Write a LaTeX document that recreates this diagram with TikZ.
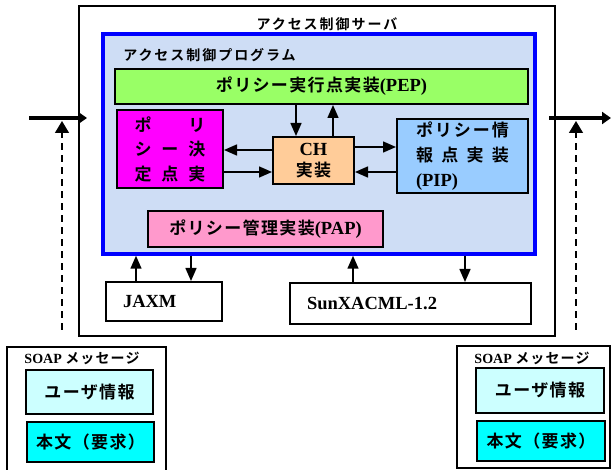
\documentclass[tikz,border=0pt]{standalone}
\usepackage{fontspec}
\setmainfont{Liberation Serif}
\newfontfamily\jp{Noto Sans CJK JP}[BoldFont={Noto Sans CJK JP Bold}, LetterSpace=8]
\newfontfamily\jpwide{Noto Sans CJK JP}[BoldFont={Noto Sans CJK JP Bold}, LetterSpace=14]
\usetikzlibrary{arrows.meta}

\definecolor{progblue}{RGB}{206,221,245}
\definecolor{pepgreen}{RGB}{153,255,102}
\definecolor{pdpmagenta}{RGB}{255,0,255}
\definecolor{chorange}{RGB}{255,204,153}
\definecolor{pipblue}{RGB}{153,204,255}
\definecolor{pappink}{RGB}{255,153,204}
\definecolor{userbox}{RGB}{204,255,255}
\definecolor{bodybox}{RGB}{0,255,255}

% stretchable space for the spread-out lines
\newcommand{\gap}{\hskip 0pt plus 1filll}
\newcommand{\jsize}{\fontsize{17}{24}\selectfont}
\newcommand{\lsize}{\fontsize{18.5}{24}\selectfont}

\begin{document}
\begin{tikzpicture}[x=1pt,y=-1pt,
  every node/.style={font=\bfseries\jsize},
  box/.style={draw, line width=2pt, inner sep=0pt},
  tri/.style={-{Triangle[length=13pt,width=11pt]}, line width=1.5pt},
  bigarrow/.style={-{Triangle[length=9pt,width=12pt]}, line width=3.5pt},
  dasharrow/.style={-{Triangle[length=12pt,width=14pt]}, line width=1.5pt, dash pattern=on 7pt off 5pt}]
\useasboundingbox (0,0) rectangle (611,470);

% server and the program inside it
\node[box, minimum width=476pt, minimum height=330pt] (server) at (317,171) {};
\node[font=\bfseries\jpwide\fontsize{14}{16}\selectfont] (servertitle) at (327,24) {アクセス制御サーバ};
\node[draw=blue, line width=3.5pt, fill=progblue, minimum width=432pt, minimum height=220pt] (prog) at (319,144) {};
\node[font=\bfseries\jpwide\fontsize{14}{16}\selectfont] (progtitle) at (209.5,55) {アクセス制御プログラム};

\node[box, fill=pepgreen, minimum width=413pt, minimum height=35pt] (pep) at (321.5,86.5)
  {{\jp ポリシー実行点実装}{\lsize (PEP)}};
\node[box, fill=pdpmagenta, text width=71pt, inner xsep=17.5pt, minimum height=78pt, align=left,
  font=\bfseries\jp\fontsize{17}{24.5}\selectfont] (pdp) at (170,149)
  {ポ\gap リ\\ シ\gap ー\gap 決\\ 定\gap 点\gap 実};
\node[box, fill=chorange, minimum width=81pt, minimum height=47pt, align=center,
  font=\bfseries\fontsize{17}{21}\selectfont] (ch) at (313.5,160.5)
  {{\lsize CH}\\{\jp 実装}};
\node[box, fill=pipblue, text width=93pt, inner xsep=19pt, minimum height=74pt, align=left,
  font=\bfseries\fontsize{17}{25}\selectfont] (pip) at (462.5,156)
  {{\jp ポ\gap リ\gap シ\gap ー\gap 情}\\ {\jp 報\gap 点\gap 実\gap 装}\\ {\lsize (PIP)}};
\node[box, fill=pappink, minimum width=235pt, minimum height=36pt] (pap) at (265.5,229)
  {{\jp ポリシー管理実装}{\lsize (PAP)}};

% libraries under the program
\node[box, fill=white, text width=82pt, inner xsep=17pt, minimum height=39pt, align=left,
  font=\bfseries\lsize] (jaxm) at (164,301.5) {JAXM};
\node[box, fill=white, text width=207pt, inner xsep=17pt, minimum height=41pt, align=left,
  font=\bfseries\lsize] (sun) at (410.5,303.5) {SunXACML-1.2};

% arrows inside the program
\draw[tri] ([xshift=-17.5pt]ch.north |- pep.south) -- ([xshift=-17.5pt]ch.north);
\draw[tri] ([xshift=19.5pt]ch.north) -- ([xshift=19.5pt]ch.north |- pep.south);
\draw[tri] ([yshift=10.5pt]ch.west) -- ([yshift=10.5pt]ch.west -| pdp.east);
\draw[tri] ([yshift=-11.5pt]ch.west -| pdp.east) -- ([yshift=-11.5pt]ch.west);
\draw[tri] ([yshift=13.5pt]ch.east) -- ([yshift=13.5pt]ch.east -| pip.west);
\draw[tri] ([yshift=-11.5pt]ch.east -| pip.west) -- ([yshift=-11.5pt]ch.east);

\draw[tri] ([xshift=-28pt]jaxm.north) -- ([xshift=-28pt]jaxm.north |- prog.south);
\draw[tri] ([xshift=27pt]jaxm.north |- prog.south) -- ([xshift=27pt]jaxm.north);
\draw[tri] ([xshift=-57.5pt]sun.north) -- ([xshift=-57.5pt]sun.north |- prog.south);
\draw[tri] ([xshift=54.5pt]sun.north |- prog.south) -- ([xshift=54.5pt]sun.north);

% messages in and out of the server
\coordinate (inL) at (29,118);
\coordinate (outR) at (611,118);
\draw[bigarrow] (inL) -- ([xshift=9pt]inL -| server.west);
\draw[bigarrow] ([xshift=-7pt]outR -| server.east) -- (outR);
\coordinate (dashL) at (62,330);
\coordinate (dashR) at (576,330);
\draw[dasharrow] (dashL) -- ([yshift=-3pt]dashL |- inL);
\draw[dasharrow] (dashR) -- ([yshift=-3pt]dashR |- outR);

% SOAP messages
\node[box, minimum width=159pt, minimum height=133pt] (soapL) at (86.5,413.5) {};
\node[font=\bfseries\fontsize{14}{16}\selectfont] (soapLtitle) at (82,358) {SOAP {\jp メッセージ}};
\node[box, fill=userbox, minimum width=127pt, minimum height=44pt, font=\bfseries\jp\jsize] (userL) at (89.5,392) {ユーザ情報};
\node[box, fill=bodybox, minimum width=127pt, minimum height=40pt, font=\bfseries\jp\jsize] (bodyL) at (90.5,442) {本文（要求）};

\node[box, minimum width=153pt, minimum height=122pt] (soapR) at (533.5,407) {};
\node[font=\bfseries\fontsize{14}{16}\selectfont] (soapRtitle) at (532,358) {SOAP {\jp メッセージ}};
\node[box, fill=userbox, minimum width=128pt, minimum height=45pt, font=\bfseries\jp\jsize] (userR) at (540,390.5) {ユーザ情報};
\node[box, fill=bodybox, minimum width=128pt, minimum height=40pt, font=\bfseries\jp\jsize] (bodyR) at (541,441) {本文（要求）};
\end{tikzpicture}
\end{document}
